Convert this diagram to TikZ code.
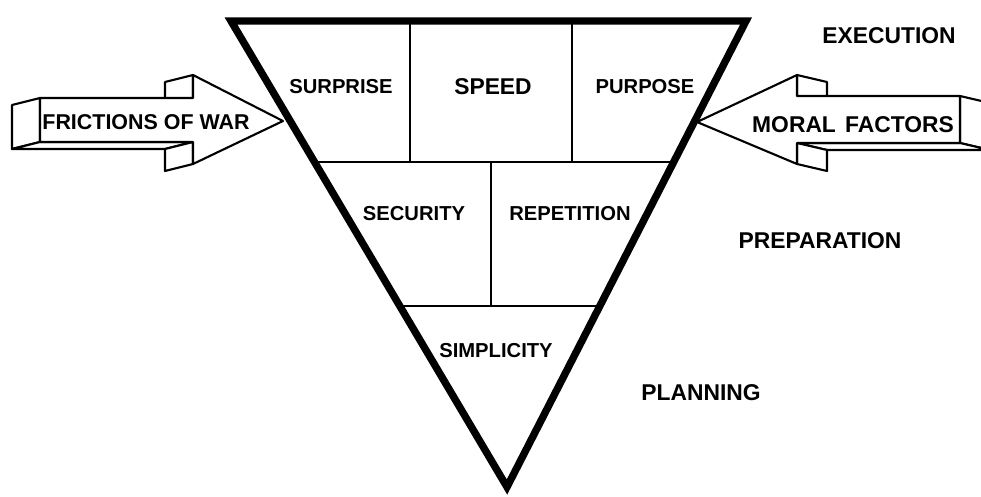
\documentclass[tikz,border=0pt]{standalone}
\usepackage{fontspec}
\setmainfont{Liberation Sans}
\begin{document}
\begin{tikzpicture}[x=0.02cm,y=-0.02cm,
  lab/.style={font=\bfseries\fontsize{11.5}{13}\selectfont, inner sep=0pt},
  biglab/.style={font=\bfseries\fontsize{13}{15}\selectfont, inner sep=0pt},
  frame/.style={line width=4.2pt, line join=miter},
  divider/.style={line width=1.7pt},
  face/.style={draw, fill=white, line width=1.2pt, line join=round}]
\useasboundingbox (0,0) rectangle (981,497);
\clip (0,0) rectangle (981,497);

% triangle corners and row points
\coordinate (TL) at (231,21);
\coordinate (TR) at (746,21);
\coordinate (AP) at (507,487);
\coordinate (R1L) at (314.5,162);
\coordinate (R1R) at (673.7,162);
\coordinate (R2L) at (399.8,306);
\coordinate (R2R) at (599.8,306);
\coordinate (D1T) at (410,21);
\coordinate (D1B) at (410,162);
\coordinate (D2T) at (572,21);
\coordinate (D2B) at (572,162);
\coordinate (D3T) at (491,162);
\coordinate (D3B) at (491,306);

% inner lines
\draw[divider] (R1L) -- (R1R);
\draw[divider] (R2L) -- (R2R);
\draw[divider] (D1T) -- (D1B);
\draw[divider] (D2T) -- (D2B);
\draw[divider] (D3T) -- (D3B);

% triangle outline
\draw[frame] (TL) -- (TR) -- (AP) -- cycle;

% left 3D arrow
\draw[face] (40,98) -- (40,142) -- (12,149) -- (12,105) -- cycle;
\draw[face] (40,142) -- (193,142) -- (165,149) -- (12,149) -- cycle;
\draw[face] (193,142) -- (193,164) -- (165,171) -- (165,149) -- cycle;
\draw[face] (193,75) -- (165,82) -- (165,105) -- (193,98) -- cycle;
\draw[face] (40,98) -- (193,98) -- (193,75) -- (283,121) -- (193,164) -- (193,142) -- (40,142) -- cycle;

% right 3D arrow
\draw[face] (960,96) -- (960,143) -- (990,150) -- (990,103) -- cycle;
\draw[face] (960,143) -- (797,143) -- (827,150) -- (990,150) -- cycle;
\draw[face] (797,143) -- (797,164) -- (827,171) -- (827,150) -- cycle;
\draw[face] (797,75) -- (827,82) -- (827,103) -- (797,96) -- cycle;
\draw[face] (960,96) -- (797,96) -- (797,75) -- (697,122) -- (797,164) -- (797,143) -- (960,143) -- cycle;

% labels
\node[lab] (surprise) at (341,87) {SURPRISE};
\node[biglab] (speed) at (493,87) {SPEED};
\node[lab] (purpose) at (645,87) {PURPOSE};
\node[lab] (security) at (414,214) {SECURITY};
\node[lab] (repetition) at (570,214) {REPETITION};
\node[lab] (simplicity) at (496,351) {SIMPLICITY};
\node[biglab] (execution) at (889,36) {EXECUTION};
\node[biglab] (preparation) at (820,241) {PREPARATION};
\node[biglab] (planning) at (701,393) {PLANNING};
\node[lab, font=\bfseries\fontsize{12.2}{14}\selectfont] (friction) at (146,122) {FRICTIONS OF WAR};
\node[biglab] (moral) at (853,125) {MORAL\hspace{0.4em}FACTORS};
\end{tikzpicture}
\end{document}
